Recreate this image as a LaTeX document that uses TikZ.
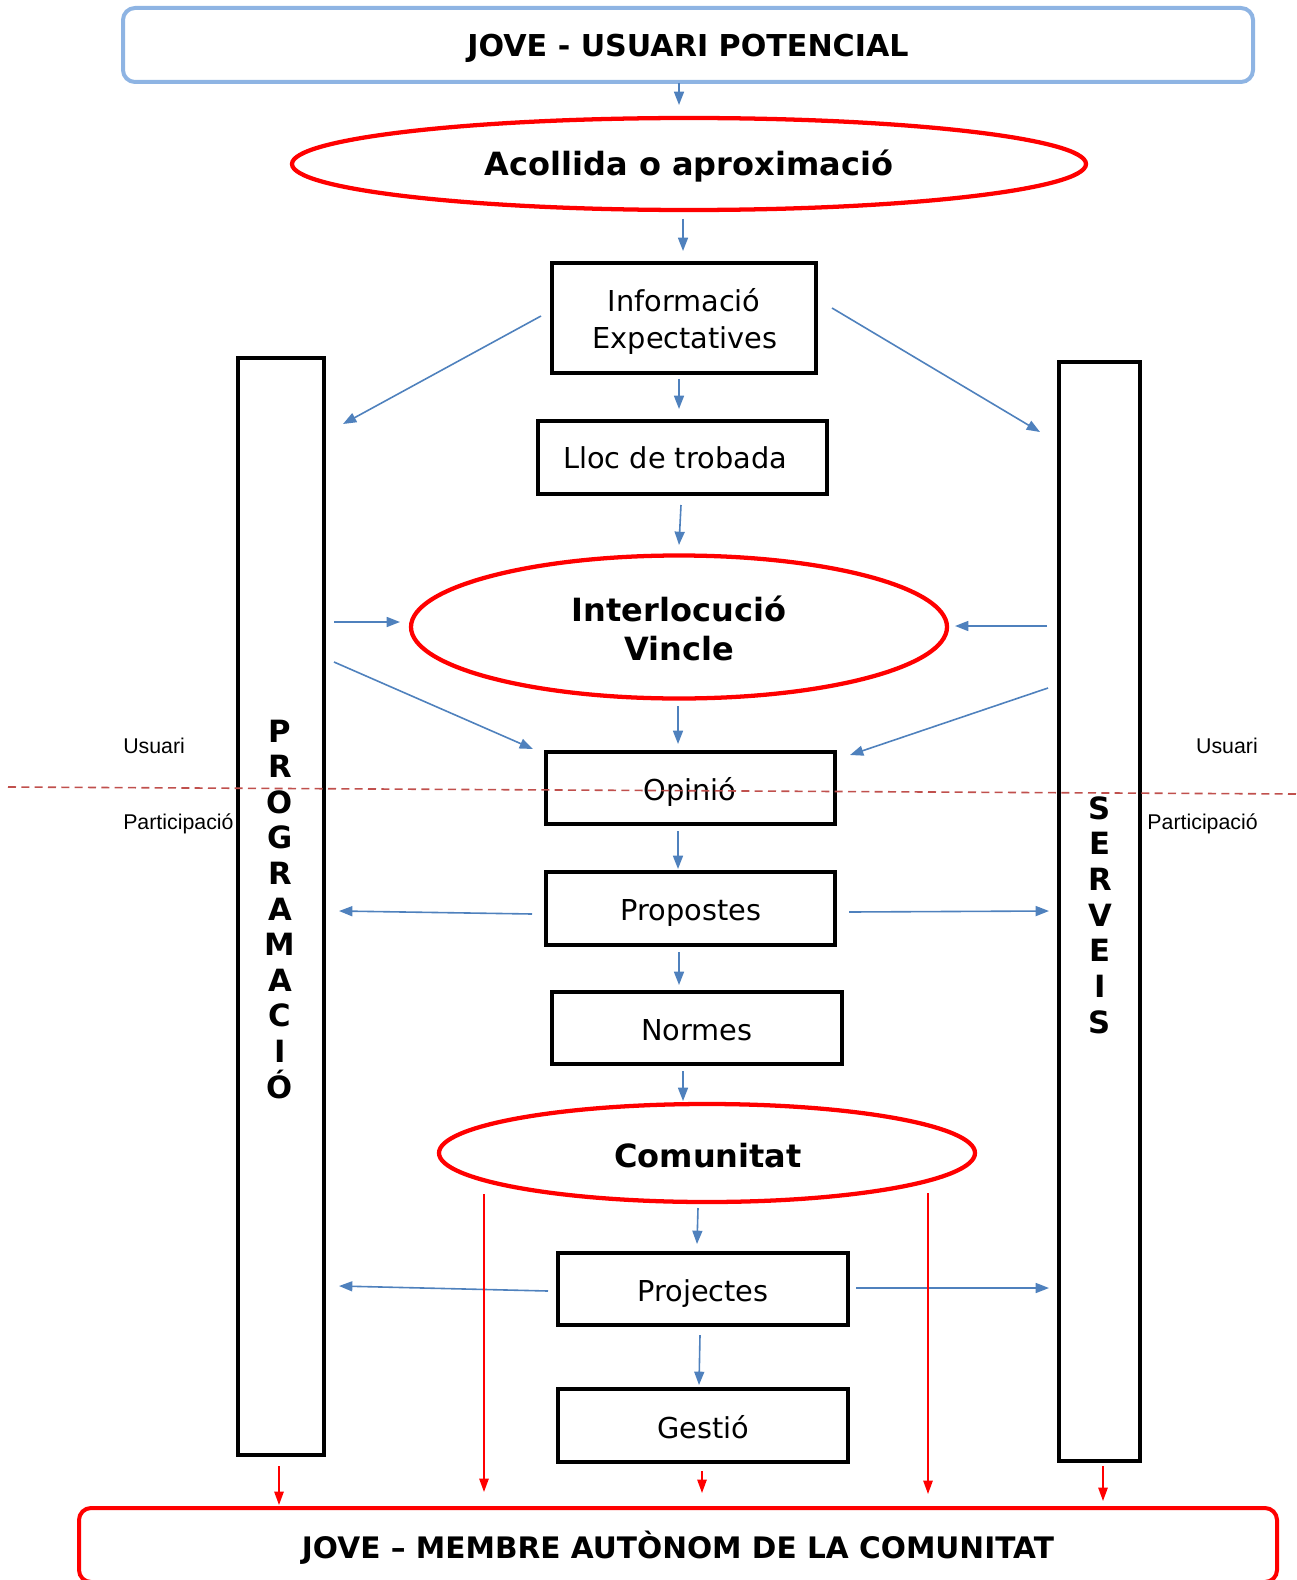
\documentclass[tikz,border=0pt]{standalone}
\usepackage{fontspec}
\setmainfont{DejaVu Sans}
\newfontfamily\arialf{Liberation Sans}
\usetikzlibrary{arrows.meta,shapes.geometric,fit}
\definecolor{lblue}{HTML}{8EB4E3}
\definecolor{ablue}{HTML}{4F81BD}
\definecolor{dred}{HTML}{C0504D}
\newcommand\pxu{0.75pt}
\begin{document}
\begin{tikzpicture}[x=0.75pt,y=-0.75pt,
  blk/.style={draw=black, line width=3pt, inner sep=0pt},
  btxt/.style={anchor=base, inner sep=0pt, font=\fontsize{21.6}{26}\selectfont},
  bar/.style={draw=black, line width=3pt, inner sep=0pt, fill=white},
  ell/.style={ellipse, draw=red, line width=3.2pt, inner sep=0pt},
  etxt/.style={anchor=base, inner sep=0pt, font=\bfseries\fontsize{24}{29}\selectfont},
  title/.style={rounded corners=9pt, line width=3pt, inner sep=0pt},
  ttxt/.style={anchor=base, inner sep=0pt},
  barr/.style={draw=ablue, line width=1.2pt, -{Triangle[length=10pt,width=7.5pt]}},
  rarr/.style={draw=red, line width=1.2pt, -{Triangle[length=10pt,width=7pt]}},
  vlet/.style={font=\bfseries\fontsize{23}{26}\selectfont, anchor=base, inner sep=0pt},
  lbl/.style={font=\arialf\fontsize{16}{19}\selectfont, inner sep=0pt}
]
\useasboundingbox (0,0) rectangle (1296,1580);

% titles
\node[title, draw=lblue, fit={(123,8)(1253,82)}] (top) {};
\node[ttxt, font=\bfseries\fontsize{22.6}{26}\selectfont] (toptxt) at (688,57) {JOVE - USUARI POTENCIAL};
\node[title, draw=red, fit={(79,1508)(1277,1582)}] (bot) {};
\node[ttxt, font=\bfseries\fontsize{22.2}{26}\selectfont] (bottxt) at (678,1558) {JOVE – MEMBRE AUTÒNOM DE LA COMUNITAT};

% ellipses
\node[ell, minimum width=794*\pxu, minimum height=92*\pxu] (acol) at (689,164) {};
\node[etxt] (acoltxt) at (689,176) {Acollida o aproximació};
\node[ell, minimum width=536*\pxu, minimum height=143*\pxu] (inter) at (679,627) {};
\node[etxt] (intert1) at (679,621) {Interlocució};
\node[etxt] (intert2) at (679,660) {Vincle};
\node[ell, minimum width=536*\pxu, minimum height=98*\pxu] (comu) at (707,1153) {};
\node[etxt] (comutxt) at (708,1167) {Comunitat};

% boxes
\node[blk, fit={(552,263)(816,373)}] (info) {};
\node[btxt] (info1) at (684,311) {Informació};
\node[btxt] (info2) at (685,348) {Expectatives};
\node[blk, fit={(538,421)(827,494)}] (lloc) {};
\node[btxt] (lloctxt) at (675,468) {Lloc de trobada};
\node[blk, fit={(546,752)(835,824)}] (opi) {};
\node[btxt] (opitxt) at (690,800) {Opinió};
\node[blk, fit={(546,872)(835,945)}] (prop) {};
\node[btxt] (proptxt) at (691,920) {Propostes};
\node[blk, fit={(552,992)(842,1064)}] (norm) {};
\node[btxt] (normtxt) at (697,1040) {Normes};
\node[blk, fit={(558,1253)(848,1325)}] (proj) {};
\node[btxt] (projtxt) at (703,1301) {Projectes};
\node[blk, fit={(558,1389)(848,1462)}] (gest) {};
\node[btxt] (gesttxt) at (703,1438) {Gestió};

% bars
\node[bar, fit={(238,358)(324,1455)}] (prog) {};
\node[bar, fit={(1059,362)(1140,1461)}] (serv) {};
\foreach \l [count=\i] in {P,R,O,G,R,A,M,A,C,I,Ó}
  \node[vlet] (pl\i) at (280,{742+35.6*(\i-1)}) {\l};
\foreach \l [count=\i] in {S,E,R,V,E,I,S}
  \node[vlet] (sl\i) at (1100,{819+35.7*(\i-1)}) {\l};

% side labels
\node[lbl, anchor=west] (usl) at (123,746) {Usuari};
\node[lbl, anchor=west] (pal) at (123,824) {Participació};
\node[lbl, anchor=east] (usr) at (1258,746) {Usuari};
\node[lbl, anchor=east] (par) at (1258,824) {Participació};

% blue connector end points
\coordinate (a1s) at (679,83);   \coordinate (a1e) at (679,105);
\coordinate (a2s) at (683,219);  \coordinate (a2e) at (683,251);
\coordinate (dls) at (541,316);  \coordinate (dle) at (343,424);
\coordinate (drs) at (832,308);  \coordinate (dre) at (1040,432);
\coordinate (a3s) at (679,379);  \coordinate (a3e) at (679,409);
\coordinate (a4s) at (681,505);  \coordinate (a4e) at (679,545);
\coordinate (hls) at (334,622);  \coordinate (hle) at (400,622);
\coordinate (hrs) at (1047,626); \coordinate (hre) at (955,626);
\coordinate (d2ls) at (334,662); \coordinate (d2le) at (533,749);
\coordinate (d2rs) at (1048,688);\coordinate (d2re) at (850,755);
\coordinate (a5s) at (678,706);  \coordinate (a5e) at (678,744);
\coordinate (a6s) at (678,831);  \coordinate (a6e) at (678,869);
\coordinate (p1s) at (532,914);  \coordinate (p1e) at (339,911);
\coordinate (p2s) at (849,912);  \coordinate (p2e) at (1049,911);
\coordinate (a7s) at (679,952);  \coordinate (a7e) at (679,985);
\coordinate (a8s) at (683,1071); \coordinate (a8e) at (683,1101);
\coordinate (a9s) at (698,1208); \coordinate (a9e) at (697,1244);
\coordinate (q1s) at (548,1291); \coordinate (q1e) at (339,1286);
\coordinate (q2s) at (856,1288); \coordinate (q2e) at (1049,1288);
\coordinate (a10s) at (700,1335);\coordinate (a10e) at (699,1385);

\draw[barr] (a1s) -- (a1e);
\draw[barr] (a2s) -- (a2e);
\draw[barr] (dls) -- (dle);
\draw[barr] (drs) -- (dre);
\draw[barr] (a3s) -- (a3e);
\draw[barr] (a4s) -- (a4e);
\draw[barr] (hls) -- (hle);
\draw[barr] (hrs) -- (hre);
\draw[barr] (d2ls) -- (d2le);
\draw[barr] (d2rs) -- (d2re);
\draw[barr] (a5s) -- (a5e);
\draw[barr] (a6s) -- (a6e);
\draw[barr] (p1s) -- (p1e);
\draw[barr] (p2s) -- (p2e);
\draw[barr] (a7s) -- (a7e);
\draw[barr] (a8s) -- (a8e);
\draw[barr] (a9s) -- (a9e);
\draw[barr] (q1s) -- (q1e);
\draw[barr] (q2s) -- (q2e);
\draw[barr] (a10s) -- (a10e);

% red arrows
\coordinate (r1s) at (279,1466);  \coordinate (r1e) at (279,1505);
\coordinate (r2s) at (484,1194);  \coordinate (r2e) at (484,1492);
\coordinate (r3s) at (702,1471);  \coordinate (r3e) at (702,1493);
\coordinate (r4s) at (928,1193);  \coordinate (r4e) at (928,1494);
\coordinate (r5s) at (1103,1466); \coordinate (r5e) at (1103,1501);
\draw[rarr] (r1s) -- (r1e);
\draw[rarr] (r2s) -- (r2e);
\draw[rarr] (r3s) -- (r3e);
\draw[rarr] (r4s) -- (r4e);
\draw[rarr] (r5s) -- (r5e);

% dashed separator
\coordinate (dsl) at (8,787);
\coordinate (dsr) at (1296,794);
\draw[dred, line width=1.2pt, dash pattern=on 6pt off 4pt] (dsl) -- (dsr);
\end{tikzpicture}
\end{document}
